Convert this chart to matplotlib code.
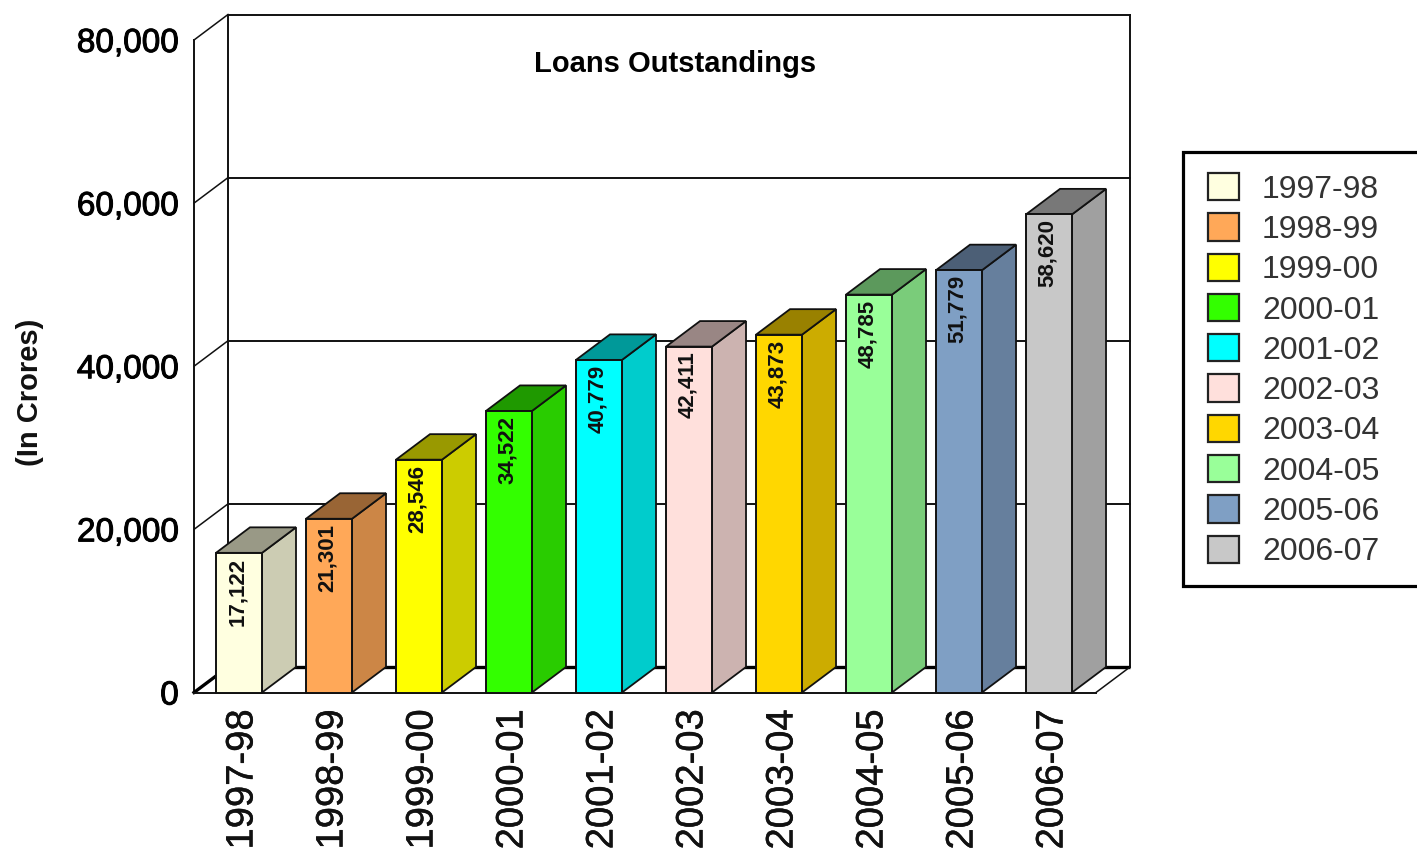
import matplotlib
matplotlib.use('Agg')
import matplotlib.pyplot as plt
import matplotlib.patheffects as pe
from matplotlib.colors import to_rgb
from matplotlib.patches import Patch, Rectangle
from matplotlib.transforms import ScaledTranslation

plt.rcParams['font.family'] = ['Liberation Sans', 'DejaVu Sans']

periods = ['1997-98', '1998-99', '1999-00', '2000-01', '2001-02',
           '2002-03', '2003-04', '2004-05', '2005-06', '2006-07']
loans = [17122, 21301, 28546, 34522, 40779, 42411, 43873, 48785, 51779, 58620]
bar_colors = ['#FFFFE0', '#FFA858', '#FFFF00', '#33FF00', '#00FFFF',
              '#FFE0DC', '#FFD700', '#99FF99', '#7F9FC4', '#C8C8C8']
y_ticks = [0, 20000, 40000, 60000, 80000]

W, H = 1417, 851
LINE = '#111111'

fig = plt.figure(figsize=(W / 100, H / 100), dpi=100)
# front plane of the fake 3d box, measured in pixels
left, right, top, bottom = 194, 1096, 40, 692.5
ax = fig.add_axes([left / W, 1 - bottom / H, (right - left) / W, (bottom - top) / H])
ax.set_xlim(-0.5, 9.522)
ax.set_ylim(0, 80000)
ax.patch.set_visible(False)
for s in ax.spines.values():
    s.set_visible(False)

# depth of the box in data units
dx = 34 / 90
dy = 25.5 / (bottom - top) * 80000
x0, x1 = ax.get_xlim()

# walls and gridlines
for v in y_ticks[1:]:
    ax.plot([x0 + dx, x1 + dx], [v + dy, v + dy], color=LINE, lw=1.4, clip_on=False, zorder=1)
    ax.plot([x0, x0 + dx], [v, v + dy], color=LINE, lw=1.1, clip_on=False, zorder=1)
ax.plot([x0, x0], [0, 80000], color=LINE, lw=1.4, clip_on=False, zorder=1)
ax.plot([x0 + dx, x0 + dx], [dy, 80000 + dy], color=LINE, lw=1.4, clip_on=False, zorder=1)
ax.plot([x1 + dx, x1 + dx], [dy, 80000 + dy], color=LINE, lw=1.4, clip_on=False, zorder=1)

# floor
ax.plot([x0 + dx, x1 + dx], [dy, dy], color='black', lw=2.4, clip_on=False, zorder=1,
        solid_capstyle='butt')
ax.plot([x0, x0 + dx], [0, dy], color='black', lw=2.4, clip_on=False, zorder=1)
ax.plot([x1, x1 + dx], [0, dy], color=LINE, lw=1.1, clip_on=False, zorder=1)
ax.plot([x0, x1], [0, 0], color=LINE, lw=1.4, clip_on=False, zorder=2)

# bars, side and top faces are darker copies of the front
bar_width = 46 / 90
for i, (v, c) in enumerate(zip(loans, bar_colors)):
    rgb = to_rgb(c)
    l, r = i - bar_width / 2, i + bar_width / 2
    ax.fill([r, r + dx, r + dx, r], [0, dy, v + dy, v],
            color=[ch * 0.8 for ch in rgb], ec=LINE, lw=1.3, clip_on=False, zorder=3)
    ax.fill([l, r, r + dx, l + dx], [v, v, v + dy, v + dy],
            color=[ch * 0.6 for ch in rgb], ec=LINE, lw=1.3, clip_on=False, zorder=3)
    ax.bar(i, v, width=bar_width, color=c, edgecolor=LINE, linewidth=1.4, zorder=4, clip_on=False)
    ax.annotate(f'{v:,}', (i - 0.02, v), xytext=(0, -3.5), textcoords='offset points',
                rotation=90, ha='center', va='top', fontsize=16, fontweight='bold',
                color='#111111', zorder=5)

ax.set_xticks(range(len(periods)))
ax.set_xticklabels(periods, rotation=90, fontsize=27.5, color='#111111')
ax.set_yticks(y_ticks)
ax.set_yticklabels([f'{v:,}' for v in y_ticks], fontsize=24, color='black')
ax.tick_params(axis='x', length=0, pad=12)
ax.tick_params(axis='y', length=0, pad=11)

# tick labels in the original are heavier than regular and sit a bit to the right
shift = ScaledTranslation(2.5 / 72, 0, fig.dpi_scale_trans)
for lab in ax.get_xticklabels():
    lab.set_transform(lab.get_transform() + shift)
    lab.set_path_effects([pe.withStroke(linewidth=0.3, foreground='#111111')])
for lab in ax.get_yticklabels():
    lab.set_path_effects([pe.withStroke(linewidth=0.7, foreground='black')])

fig.text(675 / W, 1 - 64 / H, 'Loans Outstandings', ha='center', va='center',
         fontsize=21, fontweight='bold', color='black')
fig.text(30 / W, 1 - 392 / H, '(In Crores)', ha='center', va='center', rotation=90,
         fontsize=21, fontweight='bold', color='#111111')

# legend box runs off the right edge of the picture
fig.add_artist(Rectangle((1183 / W, 1 - 586 / H), 250 / W, 434 / H, transform=fig.transFigure,
                         facecolor='white', edgecolor='black', linewidth=2.3, clip_on=True))
handles = [Patch(facecolor=c, edgecolor='#222222', linewidth=1.6) for c in bar_colors]
fig.legend(handles, periods, loc='upper left', bbox_to_anchor=(1208 / W, 1 - 173 / H),
           frameon=False, fontsize=23, labelcolor='#333333', borderpad=0, borderaxespad=0,
           handlelength=0.97, handleheight=0.94, handletextpad=0.72, labelspacing=0.27)

fig.savefig('out.png', dpi=100)
